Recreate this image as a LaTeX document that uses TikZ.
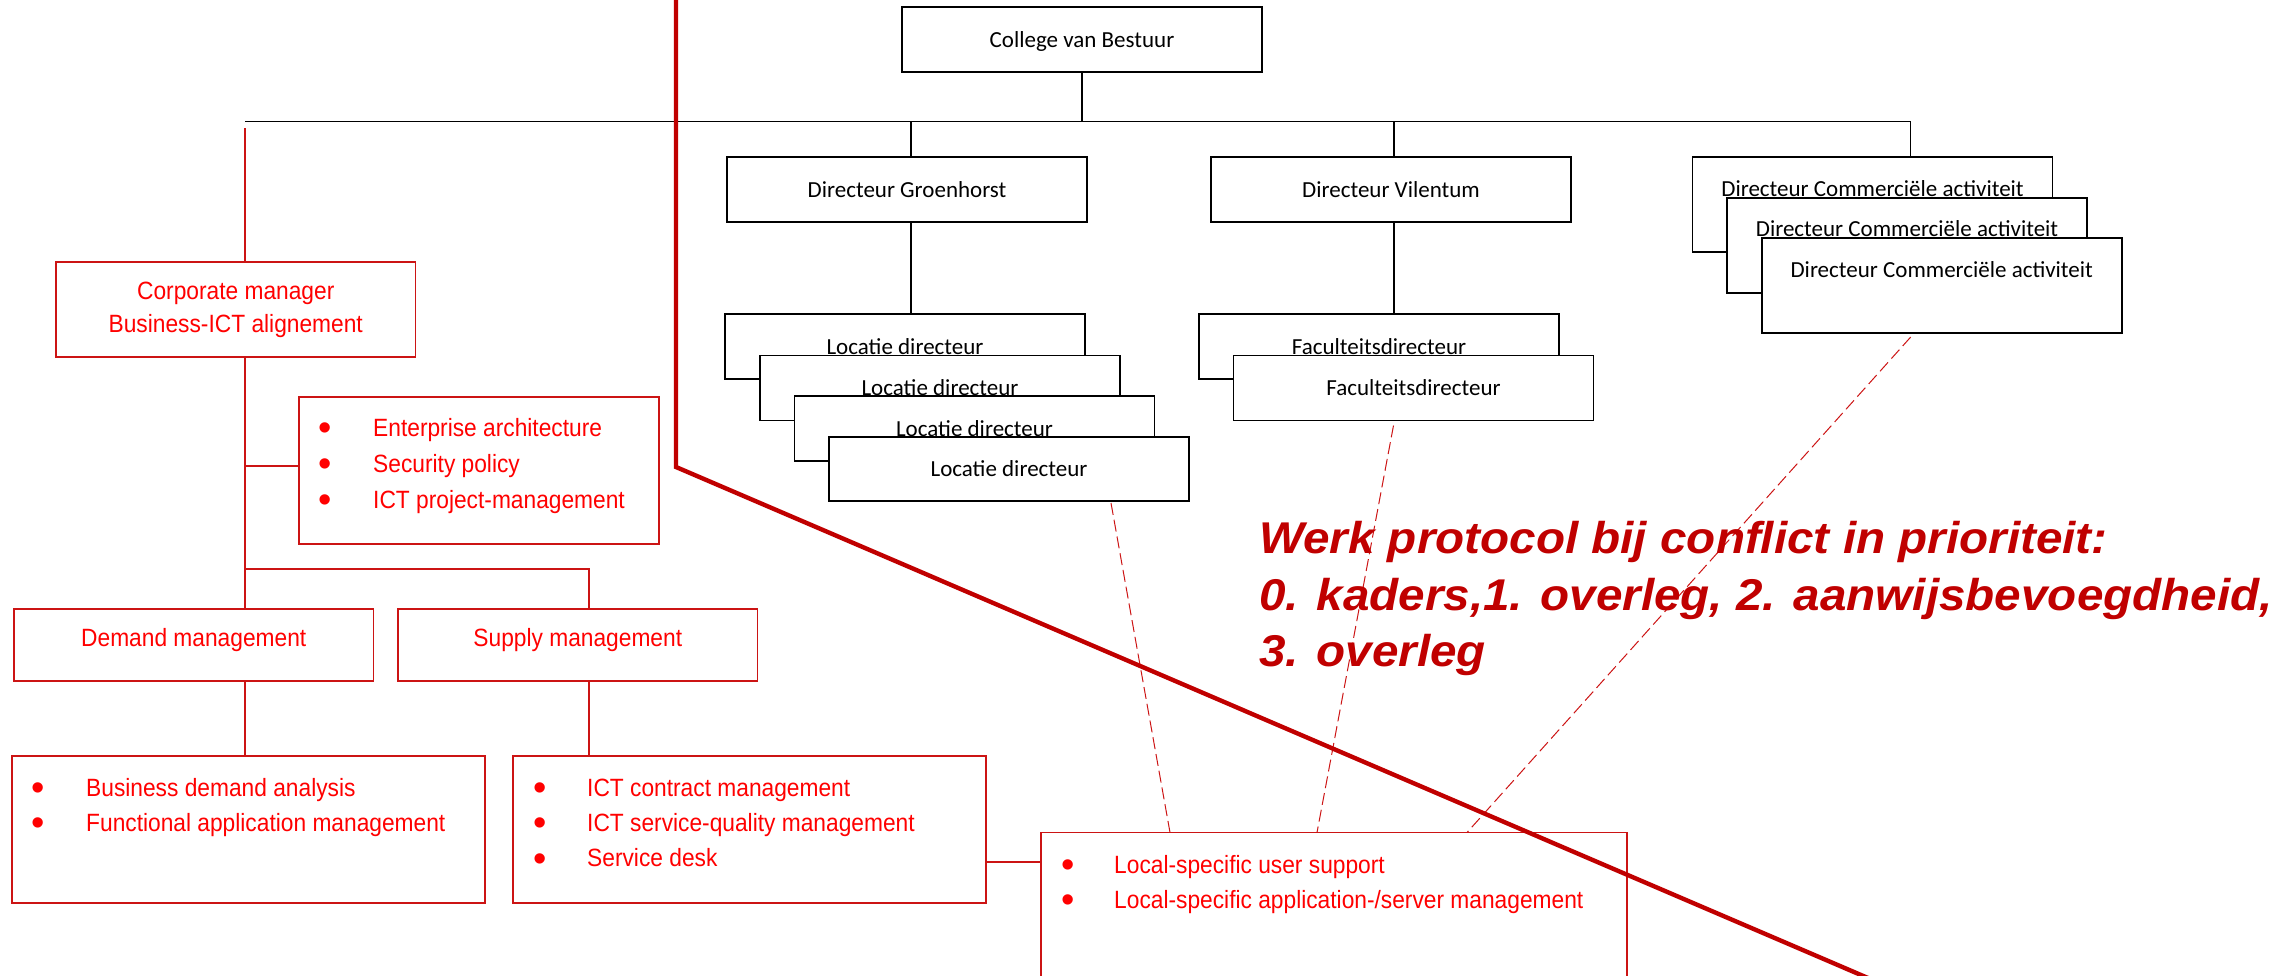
\documentclass[tikz,border=0pt]{standalone}
\usepackage{fontspec}
\usepackage{graphicx}
\setmainfont{Carlito}
\newfontfamily\arialfam{Liberation Sans}
\usetikzlibrary{calc}
\definecolor{darkred}{HTML}{C00000}
\definecolor{boxred}{HTML}{CC1414}
\definecolor{txtred}{HTML}{FF0000}
\newcommand{\narrowtxt}[1]{\scalebox{0.91}[1]{#1}}
\newcommand{\widetxt}[1]{\scalebox{1.07}[1]{#1}}
\begin{document}
\begin{tikzpicture}[x=1pt,y=-1pt,
  blk/.style={draw=black,line width=1.7pt,fill=white,inner sep=0pt,outer sep=0pt,anchor=north west,minimum width=360pt,minimum height=65pt,font=\fontsize{23}{28}\selectfont,text height=15pt,text depth=0pt},
  blkt/.style={inner sep=0pt,anchor=base,font=\fontsize{23}{28}\selectfont},
  rbx/.style={draw=boxred,line width=1.4pt,fill=white,inner sep=0pt,outer sep=0pt,anchor=north west},
  rtx/.style={inner sep=0pt,text=txtred,font=\arialfam\fontsize{25}{30}\selectfont},
  bul/.style={inner sep=0pt,anchor=center,text=txtred,font=\arialfam\fontsize{38}{38}\selectfont},
  bline/.style={draw=black,line width=1.2pt},
  rline/.style={draw=boxred,line width=1.2pt},
  dline/.style={draw=boxred,line width=1pt,dash pattern=on 12pt off 5pt},
  bigline/.style={draw=darkred,line width=4.4pt,line join=miter},
  werk/.style={inner sep=0pt,anchor=base west,text=darkred,font=\arialfam\bfseries\itshape\fontsize{44.5}{50}\selectfont}
]
\useasboundingbox (0,0) rectangle (2291,975);
\clip (0,0) rectangle (2291,975);

% ---------- black organisation boxes ----------
\node[blk] (cvb) at (902,7) {College van Bestuur};
\node[blk] (dg) at (727,157) {Directeur Groenhorst};
\node[blk] (dv) at (1211,157) {Directeur Vilentum};

\node[blk] (ld1) at (725,314) {Locatie directeur};
\node[blk] (ld2) at (760,355.5) {Locatie directeur};
\node[blk] (ld3) at (794.5,396) {Locatie directeur};
\node[blk,minimum height=64pt] (ld4) at (829,437) {Locatie directeur};

\node[blk] (fd1) at (1199,314) {Faculteitsdirecteur};
\node[blk] (fd2) at (1233.5,355.5) {Faculteitsdirecteur};

\node[blk,minimum height=95pt] (dc1) at (1692.5,157) {};
\node[blkt] (dc1t) at ($(dc1.north)+(0,39)$) {Directeur Commerciële activiteit};
\node[blk,minimum height=95pt] (dc2) at (1727,197.7) {};
\node[blkt] (dc2t) at ($(dc2.north)+(0,39)$) {Directeur Commerciële activiteit};
\node[blk,minimum height=95pt] (dc3) at (1761.7,238) {};
\node[blkt] (dc3t) at ($(dc3.north)+(0,39)$) {Directeur Commerciële activiteit};

% ---------- black connectors ----------
\coordinate (hl) at (245,121.7);
\coordinate (hr) at (1910.5,121.7);
\draw[bline] (hl) -- (hr) -- (hr |- dc1.north);
\draw[bline] (cvb.south) -- (cvb.south |- hl);
\draw[bline] (911,0 |- hl) -- (911,0 |- dg.north);
\draw[bline] (911,0 |- dg.south) -- (911,0 |- ld1.north);
\draw[bline] (1394,0 |- hl) -- (1394,0 |- dv.north);
\draw[bline] (1394,0 |- dv.south) -- (1394,0 |- fd1.north);

% ---------- red boxes ----------
\node[rbx,minimum width=359.5pt,minimum height=95pt] (cm) at (56,262) {};
\node[rtx,anchor=base] (cmt1) at ($(cm.north)+(0,37)$) {\narrowtxt{Corporate manager}};
\node[rtx,anchor=base] (cmt2) at ($(cm.north)+(0,70)$) {\narrowtxt{Business-ICT alignement}};

\node[rbx,minimum width=360pt,minimum height=147pt] (ea) at (299,397) {};
\node[bul] (eab1) at ($(ea.north west)+(26,35)$) {•};
\node[bul] (eab2) at ($(ea.north west)+(26,71)$) {•};
\node[bul] (eab3) at ($(ea.north west)+(26,107)$) {•};
\node[rtx,anchor=base west] (eat1) at ($(ea.north west)+(74,39)$) {\narrowtxt{Enterprise architecture}};
\node[rtx,anchor=base west] (eat2) at ($(ea.north west)+(74,75)$) {\narrowtxt{Security policy}};
\node[rtx,anchor=base west] (eat3) at ($(ea.north west)+(74,111)$) {\narrowtxt{ICT project-management}};

\node[rbx,minimum width=359.5pt,minimum height=72pt] (dm) at (14,609) {};
\node[rtx,anchor=base] (dmt) at ($(dm.north)+(0,37.5)$) {\narrowtxt{Demand management}};
\node[rbx,minimum width=359.6pt,minimum height=72pt] (sm) at (398,609) {};
\node[rtx,anchor=base] (smt) at ($(sm.north)+(0,37.5)$) {\narrowtxt{Supply management}};

\node[rbx,minimum width=473pt,minimum height=147pt] (biz) at (12,756) {};
\node[bul] (bizb1) at ($(biz.north west)+(26,36)$) {•};
\node[bul] (bizb2) at ($(biz.north west)+(26,71)$) {•};
\node[rtx,anchor=base west] (bizt1) at ($(biz.north west)+(74,40)$) {\narrowtxt{Business demand analysis}};
\node[rtx,anchor=base west] (bizt2) at ($(biz.north west)+(74,75)$) {\narrowtxt{Functional application management}};

\node[rbx,minimum width=473pt,minimum height=147pt] (ict) at (513,756) {};
\node[bul] (ictb1) at ($(ict.north west)+(27,36)$) {•};
\node[bul] (ictb2) at ($(ict.north west)+(27,71)$) {•};
\node[bul] (ictb3) at ($(ict.north west)+(27,106.5)$) {•};
\node[rtx,anchor=base west] (ictt1) at ($(ict.north west)+(74,40)$) {\narrowtxt{ICT contract management}};
\node[rtx,anchor=base west] (ictt2) at ($(ict.north west)+(74,75)$) {\narrowtxt{ICT service-quality management}};
\node[rtx,anchor=base west] (ictt3) at ($(ict.north west)+(74,110.5)$) {\narrowtxt{Service desk}};

\node[rbx,minimum width=586pt,minimum height=220pt] (loc) at (1041,832.5) {};
\node[bul] (locb1) at ($(loc.north west)+(26.7,36.5)$) {•};
\node[bul] (locb2) at ($(loc.north west)+(26.7,71.5)$) {•};
\node[rtx,anchor=base west] (loct1) at ($(loc.north west)+(73,40.5)$) {\narrowtxt{Local-specific user support}};
\node[rtx,anchor=base west] (loct2) at ($(loc.north west)+(73,75.5)$) {\narrowtxt{Local-specific application-/server management}};

% ---------- red connectors ----------
\coordinate (rtop) at (245,128);
\coordinate (rea) at (245,466);
\coordinate (rsplit) at (245,569);
\coordinate (rsup) at (589,569);
\draw[rline] (rtop) -- (rtop |- cm.north);
\draw[rline] (245,0 |- cm.south) -- (245,0 |- dm.north);
\draw[rline] (rea) -- (rea -| ea.west);
\draw[rline] (rsplit) -- (rsup) -- (rsup |- sm.north);
\draw[rline] (245,0 |- dm.south) -- (245,0 |- biz.north);
\draw[rline] (589,0 |- sm.south) -- (589,0 |- ict.north);
\draw[rline] (ict.east |- 0,862) -- (loc.west |- 0,862);

% ---------- dashed links ----------
\draw[dline] ($(ld4.south west)+(282,2)$) -- ($(loc.north west)+(129,0)$);
\draw[dline] ($(fd2.south west)+(160,5)$) -- ($(loc.north west)+(276,0)$);
\draw[dline] ($(dc3.south west)+(149,4)$) -- ($(loc.north west)+(426,0)$);

% ---------- protocol text ----------
\node[werk] (w1) at (1259,553) {\widetxt{Werk protocol bij conflict in prioriteit:}};
\node[werk] (w2) at (1259,610) {\widetxt{0. kaders,1. overleg, 2. aanwijsbevoegdheid,}};
\node[werk] (w3) at (1259,666) {\widetxt{3. overleg}};

% ---------- dividing line ----------
\coordinate (bl0) at (676,-5);
\coordinate (bl1) at (676,467);
\coordinate (bl2) at (1896,990);
\draw[bigline] (bl0) -- (bl1) -- (bl2);
\end{tikzpicture}
\end{document}
